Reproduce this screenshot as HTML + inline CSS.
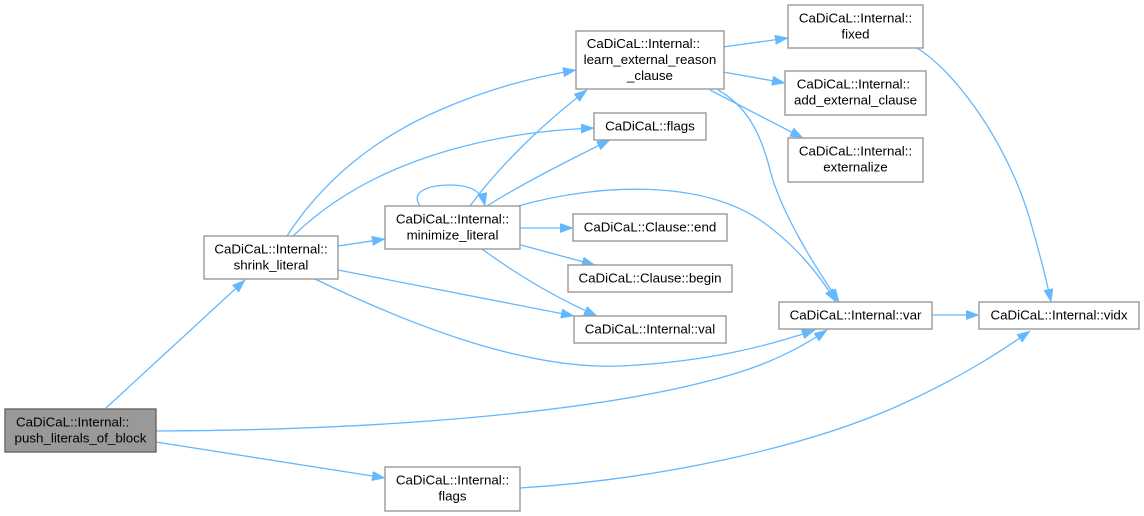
<!DOCTYPE html>
<html><head><meta charset="utf-8"><style>
html,body{margin:0;padding:0;background:#fff;}
svg{display:block;}
text{font-family:"Liberation Sans",Arial,sans-serif;font-size:13.33px;fill:#000;}
.n{fill:#fff;stroke:#999;stroke-width:1.4;}
.e{fill:none;stroke:#63b8ff;stroke-width:1.3;}
</style></head><body>
<svg width="1144" height="516" viewBox="0 0 1144 516" xmlns="http://www.w3.org/2000/svg">
<defs>
<marker id="a" markerUnits="userSpaceOnUse" markerWidth="14" markerHeight="10" refX="13" refY="4.75" orient="auto">
<path d="M0,0 L13,4.75 L0,9.5 z" fill="#63b8ff" stroke="#63b8ff" stroke-width="0.5"/>
</marker>
</defs>

<!-- edges -->
<path class="e" marker-end="url(#a)" d="M106,408 L245,280"/>
<path class="e" marker-end="url(#a)" d="M156,431 C 400,430 620,410 740,372 C 775,361 805,345 827,330"/>
<path class="e" marker-end="url(#a)" d="M156,442 L385,478"/>
<path class="e" marker-end="url(#a)" d="M287,236 C 320,185 370,140 440,110 C 490,88 535,77 576,70"/>
<path class="e" marker-end="url(#a)" d="M293,236 C 330,200 380,170 450,150 C 500,136 545,130 594,128"/>
<path class="e" marker-end="url(#a)" d="M338,246 L385,239"/>
<path class="e" marker-end="url(#a)" d="M338,270 L574,316"/>
<path class="e" marker-end="url(#a)" d="M315,279 C 400,320 520,370 620,366 C 705,362 765,347 815,330"/>
<path class="e" marker-end="url(#a)" d="M420,206 C 410,192 428,185 450,185 C 472,185 482,192 485,206"/>
<path class="e" marker-end="url(#a)" d="M470,206 C 500,165 545,122 587,90"/>
<path class="e" marker-end="url(#a)" d="M487,206 C 520,185 565,162 610,140"/>
<path class="e" marker-end="url(#a)" d="M518,206 C 600,183 700,180 760,220 C 792,242 818,272 836,302"/>
<path class="e" marker-end="url(#a)" d="M520,228 L573,228"/>
<path class="e" marker-end="url(#a)" d="M521,245 L595,265"/>
<path class="e" marker-end="url(#a)" d="M482,249 C 512,271 550,295 597,316"/>
<path class="e" marker-end="url(#a)" d="M723,47 L788,38"/>
<path class="e" marker-end="url(#a)" d="M723,72 L785,83"/>
<path class="e" marker-end="url(#a)" d="M710,90 L803,138"/>
<path class="e" marker-end="url(#a)" d="M718,90 C 745,105 760,130 770,170 C 781,212 812,262 839,302"/>
<path class="e" marker-end="url(#a)" d="M917,48 C 960,75 1010,150 1030,220 C 1041,258 1047,282 1051,302"/>
<path class="e" marker-end="url(#a)" d="M932,315 L979,315"/>
<path class="e" marker-end="url(#a)" d="M520,488 C 650,480 800,450 900,405 C 962,377 1003,350 1030,331"/>

<!-- nodes -->
<rect x="5" y="409" width="151" height="43" fill="#999" stroke="#666" stroke-width="1.4"/>
<text x="16" y="426.5">CaDiCaL::Internal::</text>
<text x="80.5" y="442.5" text-anchor="middle">push_literals_of_block</text>

<rect class="n" x="204" y="236" width="134" height="43"/>
<text x="271" y="253.5" text-anchor="middle">CaDiCaL::Internal::</text>
<text x="271" y="269.5" text-anchor="middle">shrink_literal</text>

<rect class="n" x="385" y="206" width="135" height="43"/>
<text x="452.5" y="223.5" text-anchor="middle">CaDiCaL::Internal::</text>
<text x="452.5" y="239.5" text-anchor="middle">minimize_literal</text>

<rect class="n" x="385" y="467" width="135" height="44"/>
<text x="452.5" y="484.5" text-anchor="middle">CaDiCaL::Internal::</text>
<text x="452.5" y="500.5" text-anchor="middle">flags</text>

<rect class="n" x="576" y="31" width="148" height="58"/>
<text x="586.7" y="48">CaDiCaL::Internal::</text>
<text x="650" y="64" text-anchor="middle">learn_external_reason</text>
<text x="650" y="80" text-anchor="middle">_clause</text>

<rect class="n" x="594" y="113" width="112" height="27"/>
<text x="650" y="130.5" text-anchor="middle">CaDiCaL::flags</text>

<rect class="n" x="573" y="214" width="154" height="27"/>
<text x="650" y="231.5" text-anchor="middle">CaDiCaL::Clause::end</text>

<rect class="n" x="568" y="265" width="164" height="27"/>
<text x="650" y="282.5" text-anchor="middle">CaDiCaL::Clause::begin</text>

<rect class="n" x="574" y="316" width="152" height="27"/>
<text x="650" y="333.5" text-anchor="middle">CaDiCaL::Internal::val</text>

<rect class="n" x="788" y="5" width="135" height="43"/>
<text x="855.5" y="22.5" text-anchor="middle">CaDiCaL::Internal::</text>
<text x="855.5" y="38.5" text-anchor="middle">fixed</text>

<rect class="n" x="785" y="71" width="141" height="44"/>
<text x="796.7" y="88.5">CaDiCaL::Internal::</text>
<text x="855.5" y="104.5" text-anchor="middle">add_external_clause</text>

<rect class="n" x="788" y="138" width="135" height="44"/>
<text x="855.5" y="155.5" text-anchor="middle">CaDiCaL::Internal::</text>
<text x="855.5" y="171.5" text-anchor="middle">externalize</text>

<rect class="n" x="779" y="302" width="153" height="27"/>
<text x="855.5" y="319.5" text-anchor="middle">CaDiCaL::Internal::var</text>

<rect class="n" x="979" y="302" width="160" height="27"/>
<text x="1059" y="319.5" text-anchor="middle">CaDiCaL::Internal::vidx</text>
</svg>
</body></html>
